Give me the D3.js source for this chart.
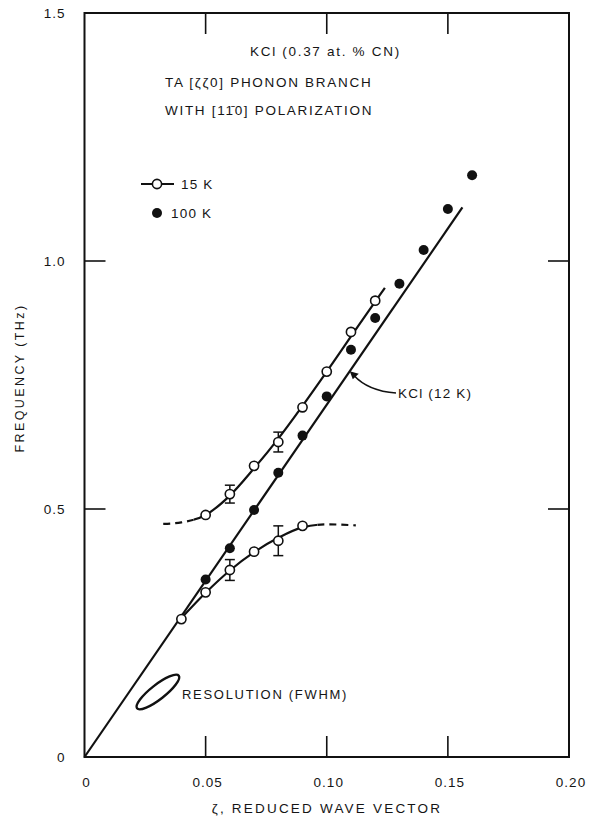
<!DOCTYPE html>
<html><head><meta charset="utf-8">
<script src="https://cdn.jsdelivr.net/npm/d3@7"></script>
<style>
html,body{margin:0;padding:0;background:#fff;}
svg text{font-family:"Liberation Sans",Arial,sans-serif;fill:#151515;}
</style></head><body>
<svg id="chart" width="597" height="818"></svg>
<script>
// TA phonon branch of KCl(0.37 at.% CN): measured points, ζ (r.l.u.) vs frequency (THz)
const zeta15Upper = [0.05, 0.06, 0.07, 0.08, 0.09, 0.10, 0.11, 0.12];
const freq15Upper = [0.488, 0.530, 0.587, 0.635, 0.705, 0.777, 0.857, 0.920];
const zeta15Lower = [0.04, 0.05, 0.06, 0.07, 0.08, 0.09];
const freq15Lower = [0.278, 0.332, 0.377, 0.414, 0.436, 0.466];
const zeta100 = [0.05, 0.06, 0.07, 0.08, 0.09, 0.10, 0.11, 0.12, 0.13, 0.14, 0.15, 0.16];
const freq100 = [0.358, 0.421, 0.498, 0.573, 0.648, 0.727, 0.821, 0.885, 0.954, 1.022, 1.105, 1.173];

// error bars on selected 15 K points
const errZeta = [0.06, 0.08, 0.06, 0.08];
const errFreq = [0.530, 0.635, 0.377, 0.436];
const errHalf = [0.018, 0.020, 0.021, 0.030];

// hand-drawn guide curves through the 15 K branches
const upperFitZeta = [0.0325, 0.04, 0.05, 0.06, 0.07, 0.08, 0.09, 0.10, 0.11, 0.12, 0.124];
const upperFitFreq = [0.470, 0.473, 0.488, 0.527, 0.582, 0.642, 0.708, 0.777, 0.848, 0.918, 0.946];
const upperDashEnd = 0.045;
const lowerFitZeta = [0.04, 0.05, 0.06, 0.07, 0.08, 0.09, 0.10, 0.112];
const lowerFitFreq = [0.280, 0.331, 0.376, 0.413, 0.442, 0.463, 0.469, 0.467];
const lowerDashStart = 0.096;

// pure KCl (12 K) dispersion line
const kclZeta = [0, 0.156];
const kclFreq = [0, 1.108];

// resolution ellipse centre
const resCenter = [0.0303, 0.131];

const xTicks = [0, 0.05, 0.10, 0.15, 0.20];
const xTickLabels = ["0", "0.05", "0.10", "0.15", "0.20"];
const yTicks = [0, 0.5, 1.0, 1.5];
const yTickLabels = ["0", "0.5", "1.0", "1.5"];

const svg = d3.select("#chart");
const x = d3.scaleLinear().domain([0, 0.2]).range([84.5, 569]);
const y = d3.scaleLinear().domain([0, 1.5]).range([757, 13]);
const ink = "#111";

// frame
svg.append("rect").attr("x", x(0)).attr("y", y(1.5))
  .attr("width", x(0.2) - x(0)).attr("height", y(0) - y(1.5))
  .attr("fill", "none").attr("stroke", ink).attr("stroke-width", 2);

// inward ticks on all four sides
const tickLen = 21;
const innerX = xTicks.filter(v => v > 0 && v < 0.2);
const innerY = yTicks.filter(v => v > 0 && v < 1.5);
const tk = svg.append("g").attr("stroke", ink).attr("stroke-width", 1.6);
innerX.forEach(v => {
  tk.append("line").attr("x1", x(v)).attr("x2", x(v)).attr("y1", y(0)).attr("y2", y(0) - tickLen);
  tk.append("line").attr("x1", x(v)).attr("x2", x(v)).attr("y1", y(1.5)).attr("y2", y(1.5) + tickLen);
});
innerY.forEach(v => {
  tk.append("line").attr("x1", x(0)).attr("x2", x(0) + tickLen).attr("y1", y(v)).attr("y2", y(v));
  tk.append("line").attr("x1", x(0.2)).attr("x2", x(0.2) - tickLen).attr("y1", y(v)).attr("y2", y(v));
});

// tick labels
xTicks.forEach((v, i) => {
  svg.append("text").attr("x", x(v) + 2).attr("y", y(0) + 30)
    .attr("text-anchor", "middle").attr("font-size", 13.5).attr("letter-spacing", 1)
    .text(xTickLabels[i]);
});
yTicks.forEach((v, i) => {
  svg.append("text").attr("x", x(0) - 19).attr("y", y(v) + 5)
    .attr("text-anchor", "end").attr("font-size", 13.5).attr("letter-spacing", 1)
    .text(yTickLabels[i]);
});

// axis titles
svg.append("text").attr("x", 327).attr("y", 813).attr("text-anchor", "middle")
  .attr("font-size", 13.5).attr("letter-spacing", 2.2).text("ζ, REDUCED WAVE VECTOR");
svg.append("text").attr("transform", "translate(24,378) rotate(-90)").attr("text-anchor", "middle")
  .attr("font-size", 12.5).attr("letter-spacing", 2.4).text("FREQUENCY (THz)");

// headings
const head = svg.append("g").attr("font-size", 13.5).attr("letter-spacing", 1.7);
head.append("text").attr("x", 250).attr("y", 56).text("KCl (0.37 at. % CN)");
head.append("text").attr("x", 165).attr("y", 87).text("TA [ζζ0] PHONON BRANCH");
const h3 = head.append("text").attr("x", 165).attr("y", 115);
h3.append("tspan").text("WITH [1");
h3.append("tspan").text("1\u0304");
h3.append("tspan").text("0] POLARIZATION");

// KCl reference line
const line = d3.line().x(d => x(d[0])).y(d => y(d[1]));
svg.append("path").datum(d3.zip(kclZeta, kclFreq)).attr("d", line)
  .attr("fill", "none").attr("stroke", ink).attr("stroke-width", 2.2);

// guide curves, solid/dashed split by clipping
const smooth = d3.line().x(d => x(d[0])).y(d => y(d[1])).curve(d3.curveMonotoneX);
const defs = svg.append("defs");
function clip(id, z0, z1) {
  defs.append("clipPath").attr("id", id).append("rect")
    .attr("x", x(z0)).attr("y", 0).attr("width", x(z1) - x(z0)).attr("height", 818);
}
clip("upDash", -0.1, upperDashEnd);
clip("upSolid", upperDashEnd, 0.3);
clip("loSolid", -0.1, lowerDashStart);
clip("loDash", lowerDashStart, 0.3);
const upperPts = d3.zip(upperFitZeta, upperFitFreq);
const lowerPts = d3.zip(lowerFitZeta, lowerFitFreq);
[[upperPts, "upSolid", null], [upperPts, "upDash", "7,5"],
 [lowerPts, "loSolid", null], [lowerPts, "loDash", "7,5"]].forEach(([pts, id, dash]) => {
  svg.append("path").datum(pts).attr("d", smooth).attr("clip-path", `url(#${id})`)
    .attr("fill", "none").attr("stroke", ink).attr("stroke-width", 2.2)
    .attr("stroke-dasharray", dash);
});

// error bars
const eb = svg.append("g").attr("stroke", ink).attr("stroke-width", 1.5);
errZeta.forEach((z, i) => {
  const cx = x(z), top = y(errFreq[i] + errHalf[i]), bot = y(errFreq[i] - errHalf[i]);
  eb.append("line").attr("x1", cx).attr("x2", cx).attr("y1", top).attr("y2", bot);
  eb.append("line").attr("x1", cx - 5).attr("x2", cx + 5).attr("y1", top).attr("y2", top);
  eb.append("line").attr("x1", cx - 5).attr("x2", cx + 5).attr("y1", bot).attr("y2", bot);
});

// 100 K points (filled)
svg.append("g").selectAll("circle").data(d3.zip(zeta100, freq100)).join("circle")
  .attr("cx", d => x(d[0])).attr("cy", d => y(d[1])).attr("r", 5).attr("fill", ink);

// 15 K points (open)
svg.append("g").selectAll("circle")
  .data(d3.zip(zeta15Upper, freq15Upper).concat(d3.zip(zeta15Lower, freq15Lower))).join("circle")
  .attr("cx", d => x(d[0])).attr("cy", d => y(d[1])).attr("r", 4.6)
  .attr("fill", "#fff").attr("stroke", ink).attr("stroke-width", 1.6);

// KCl (12 K) label and arrow
svg.append("text").attr("x", 398).attr("y", 398).attr("font-size", 13.5).attr("letter-spacing", 1.2)
  .text("KCl (12 K)");
const tipZ = 0.1095, tip = [x(tipZ), y(kclFreq[1] / kclZeta[1] * tipZ)];
svg.append("path").attr("d", `M396,393 Q368,391 ${tip[0] + 4},${tip[1] + 4}`)
  .attr("fill", "none").attr("stroke", ink).attr("stroke-width", 1.6);
svg.append("path")
  .attr("d", `M${tip[0]},${tip[1]} L${tip[0] + 9},${tip[1] + 2.5} L${tip[0] + 3},${tip[1] + 8} Z`)
  .attr("fill", ink);

// resolution ellipse
svg.append("ellipse").attr("cx", 0).attr("cy", 0).attr("rx", 26.5).attr("ry", 7.2)
  .attr("transform", `translate(${x(resCenter[0])},${y(resCenter[1])}) rotate(-38)`)
  .attr("fill", "none").attr("stroke", ink).attr("stroke-width", 2.4);
svg.append("text").attr("x", 182).attr("y", 699).attr("font-size", 13).attr("letter-spacing", 1.7)
  .text("RESOLUTION (FWHM)");

// legend
const lg = svg.append("g");
lg.append("line").attr("x1", 141).attr("x2", 174).attr("y1", 184).attr("y2", 184)
  .attr("stroke", ink).attr("stroke-width", 2.2);
lg.append("circle").attr("cx", 157).attr("cy", 184).attr("r", 4.6)
  .attr("fill", "#fff").attr("stroke", ink).attr("stroke-width", 1.6);
lg.append("text").attr("x", 181).attr("y", 189).attr("font-size", 13.5).attr("letter-spacing", 1.2).text("15 K");
lg.append("circle").attr("cx", 157).attr("cy", 213).attr("r", 5).attr("fill", ink);
lg.append("text").attr("x", 171).attr("y", 218).attr("font-size", 13.5).attr("letter-spacing", 1.2).text("100 K");
</script>
</body></html>
